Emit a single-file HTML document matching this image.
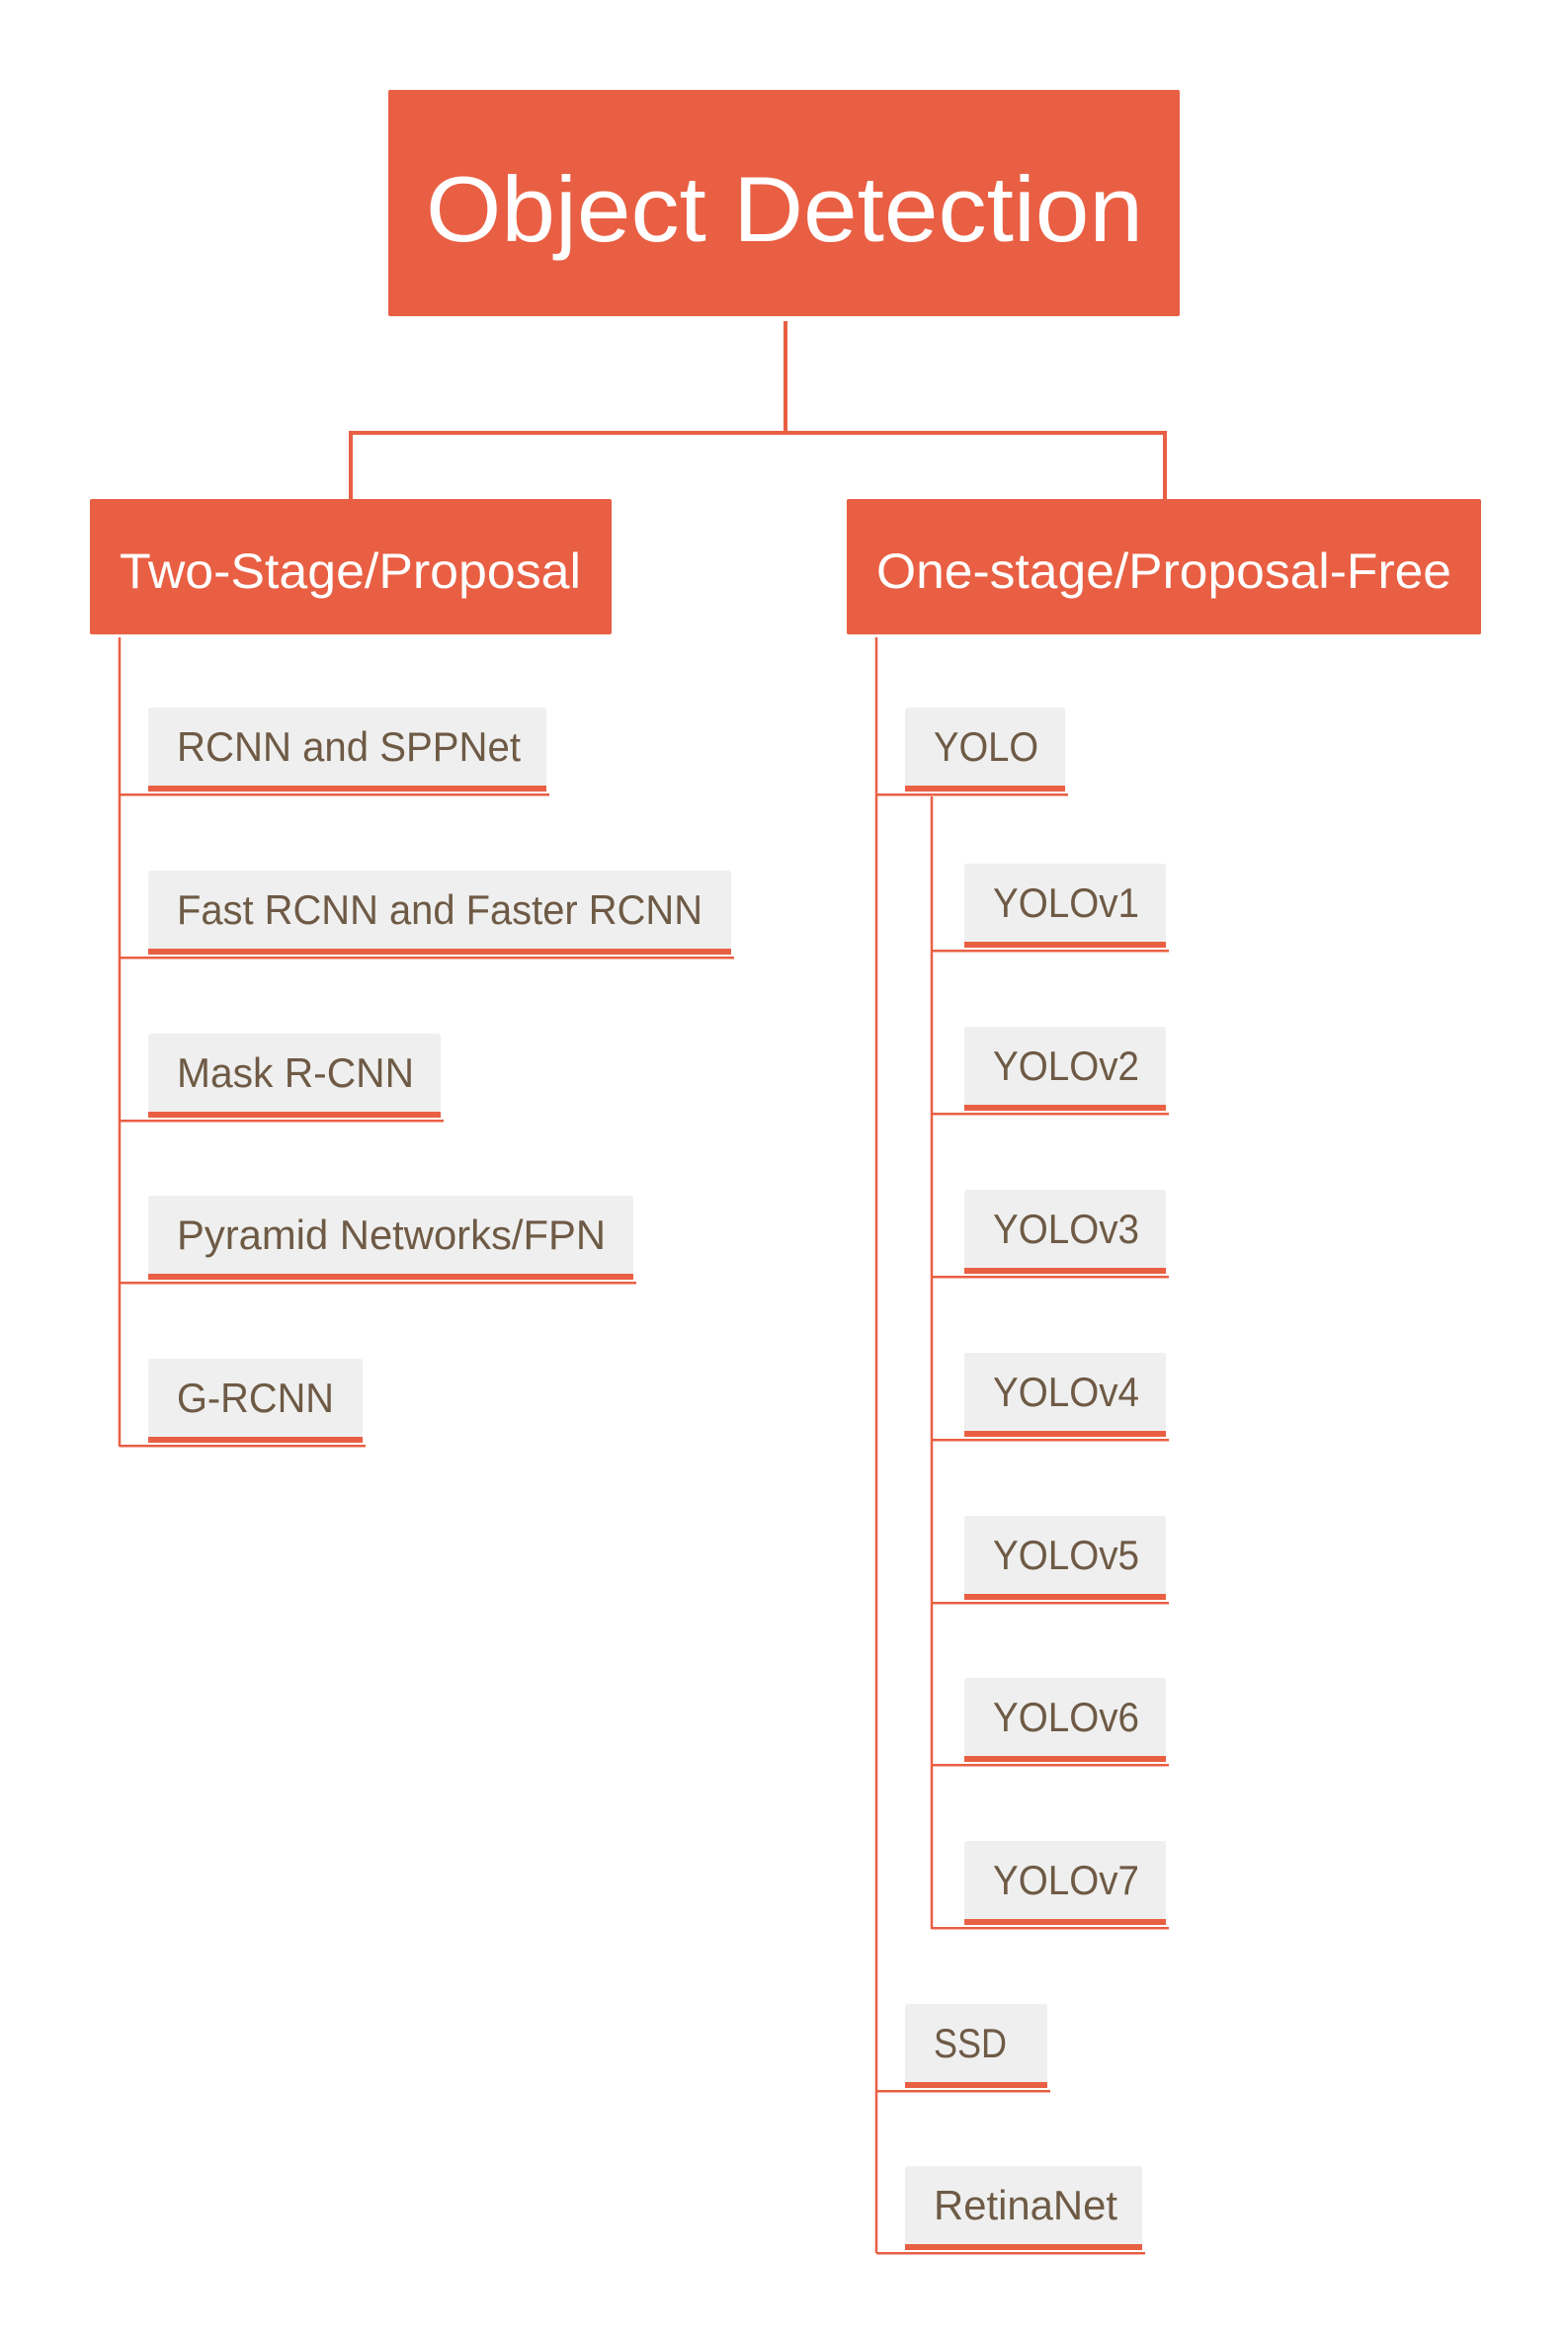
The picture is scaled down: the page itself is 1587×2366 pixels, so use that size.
<!DOCTYPE html>
<html><head><meta charset="utf-8"><style>html,body{margin:0;padding:0;background:#fff}svg{display:block}</style></head><body>
<svg width="1587" height="2366" viewBox="0 0 1587 2366" xmlns="http://www.w3.org/2000/svg" font-family="Liberation Sans, sans-serif">
<g fill="none" stroke="#e95f43" stroke-width="4">
<path d="M795 325V438M355 438H1179M355 436V506M1179 436V506"/>
</g>
<rect x="393" y="91" width="801" height="229" rx="2" fill="#e95f43"/>
<text x="431" y="244" font-size="94" fill="#fff" textLength="726" lengthAdjust="spacingAndGlyphs">Object Detection</text>
<rect x="91" y="505" width="528" height="137" rx="2" fill="#e95f43"/>
<text x="121" y="595" font-size="50" fill="#fff" textLength="467" lengthAdjust="spacingAndGlyphs">Two-Stage/Proposal</text>
<rect x="857" y="505" width="642" height="137" rx="2" fill="#e95f43"/>
<text x="887" y="595" font-size="50" fill="#fff" textLength="582" lengthAdjust="spacingAndGlyphs">One-stage/Proposal-Free</text>
<g fill="none" stroke="#e95f43" stroke-width="2.5">
<path d="M121 645V1464M887 645V2280M943 806V1952"/>
</g>
<g id="items" font-size="42" fill="#6e5a45">
</g>
<script>
const svgNS="http://www.w3.org/2000/svg";
const g=document.getElementById('items');
const items=[
[121,150,716,403,348,'RCNN and SPPNet'],
[121,150,881,590,532,'Fast RCNN and Faster RCNN'],
[121,150,1046,296,240,'Mask R-CNN'],
[121,150,1210,491,434,'Pyramid Networks/FPN'],
[121,150,1375,217,159,'G-RCNN'],
[887,916,716,162,106,'YOLO'],
[943,976,874,204,148,'YOLOv1'],
[943,976,1039,204,148,'YOLOv2'],
[943,976,1204,204,148,'YOLOv3'],
[943,976,1369,204,148,'YOLOv4'],
[943,976,1534,204,148,'YOLOv5'],
[943,976,1698,204,148,'YOLOv6'],
[943,976,1863,204,148,'YOLOv7'],
[887,916,2028,144,74,'SSD'],
[887,916,2192,240,186,'RetinaNet']
];
function el(n,a){const e=document.createElementNS(svgNS,n);for(const k in a)e.setAttribute(k,a[k]);g.appendChild(e);return e;}
for(const [lx,x,y,w,tw,t] of items){
 el('rect',{x:x,y:y,width:w,height:80,rx:3,fill:'#efefef'});
 el('rect',{x:x,y:y+79,width:w,height:6,fill:'#e95f43'});
 el('rect',{x:lx,y:y+87,width:x+w+3-lx,height:2.5,fill:'#e95f43'});
 const tx=el('text',{x:x+29,y:y+54,textLength:tw,lengthAdjust:'spacingAndGlyphs'});
 tx.textContent=t;
}
</script>
</svg>
</body></html>
